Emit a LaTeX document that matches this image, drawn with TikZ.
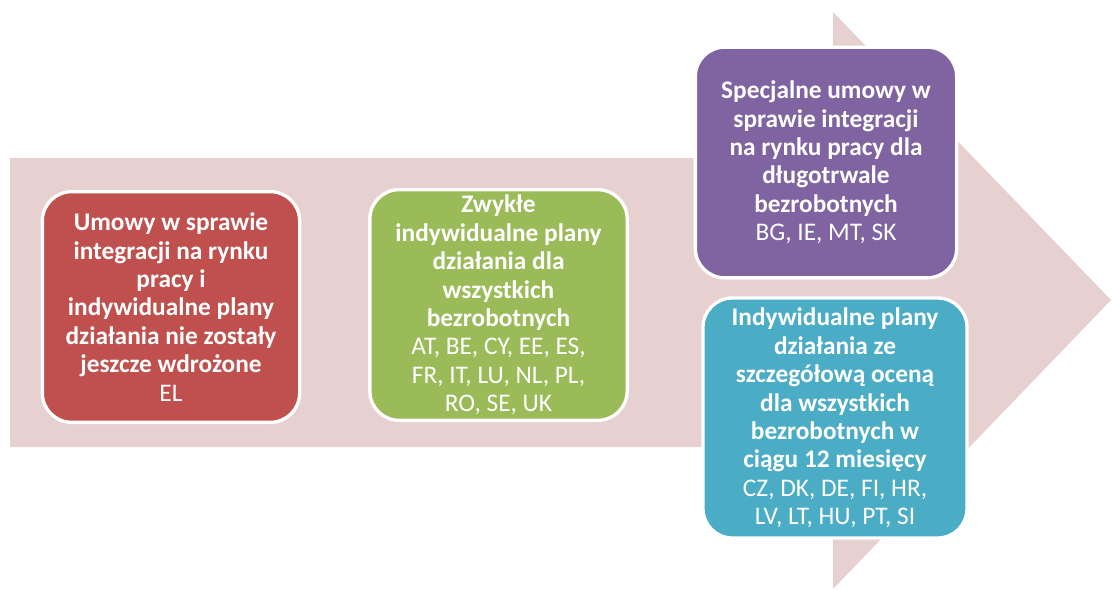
\documentclass[tikz,border=0pt]{standalone}
\usepackage{fontspec}
\setmainfont{Carlito}
\usetikzlibrary{positioning,shapes}

\definecolor{arrowpink}{HTML}{E7D0D0}
\definecolor{boxred}{HTML}{C0504D}
\definecolor{boxgreen}{HTML}{9BBB59}
\definecolor{boxpurple}{HTML}{8064A2}
\definecolor{boxteal}{HTML}{4BACC6}

\tikzset{
    stagebox/.style={draw=white, line width=2.5pt, rounded corners=22pt,
        text=white, align=center, inner sep=0pt,
        font=\fontsize{19}{21.3}\selectfont},
}

\begin{document}
\begin{tikzpicture}[x=0.75pt, y=-0.75pt]
    \useasboundingbox (0,0) rectangle (1112,589);

    % Big pale arrow behind the boxes
    \fill[arrowpink] (10,158) -- (833,158) -- (833,12) -- (1111,300)
        -- (833,589) -- (833,447) -- (10,447) -- cycle;

    % Stage boxes
    \node[stagebox, fill=boxred, minimum width=193pt, minimum height=173pt]
        (none) at (171,307)
        {\textbf{Umowy w sprawie}\\\textbf{integracji na rynku}\\\textbf{pracy i}\\
         \textbf{indywidualne plany}\\\textbf{działania nie zostały}\\
         \textbf{jeszcze wdrożone}\\EL};

    \node[stagebox, fill=boxgreen, minimum width=193pt, minimum height=173pt]
        (usual) at (498.5,305)
        {\textbf{Zwykłe}\\\textbf{indywidualne plany}\\\textbf{działania dla}\\
         \textbf{wszystkich}\\\textbf{bezrobotnych}\\AT, BE, CY, EE, ES,\\
         FR, IT, LU, NL, PL,\\RO, SE, UK};

    \node[stagebox, fill=boxpurple, minimum width=196pt, minimum height=173pt]
        (special) at (826,162.5)
        {\textbf{Specjalne umowy w}\\\textbf{sprawie integracji}\\
         \textbf{na rynku pracy dla}\\\textbf{długotrwale}\\\textbf{bezrobotnych}\\
         BG, IE, MT, SK};

    \node[stagebox, fill=boxteal, minimum width=198pt, minimum height=180pt]
        (detailed) at (835,418)
        {\textbf{Indywidualne plany}\\\textbf{działania ze}\\
         \textbf{szczegółową oceną}\\\textbf{dla wszystkich}\\
         \textbf{bezrobotnych w}\\\textbf{ciągu 12 miesięcy}\\
         CZ, DK, DE, FI, HR,\\LV, LT, HU, PT, SI};
\end{tikzpicture}
\end{document}
